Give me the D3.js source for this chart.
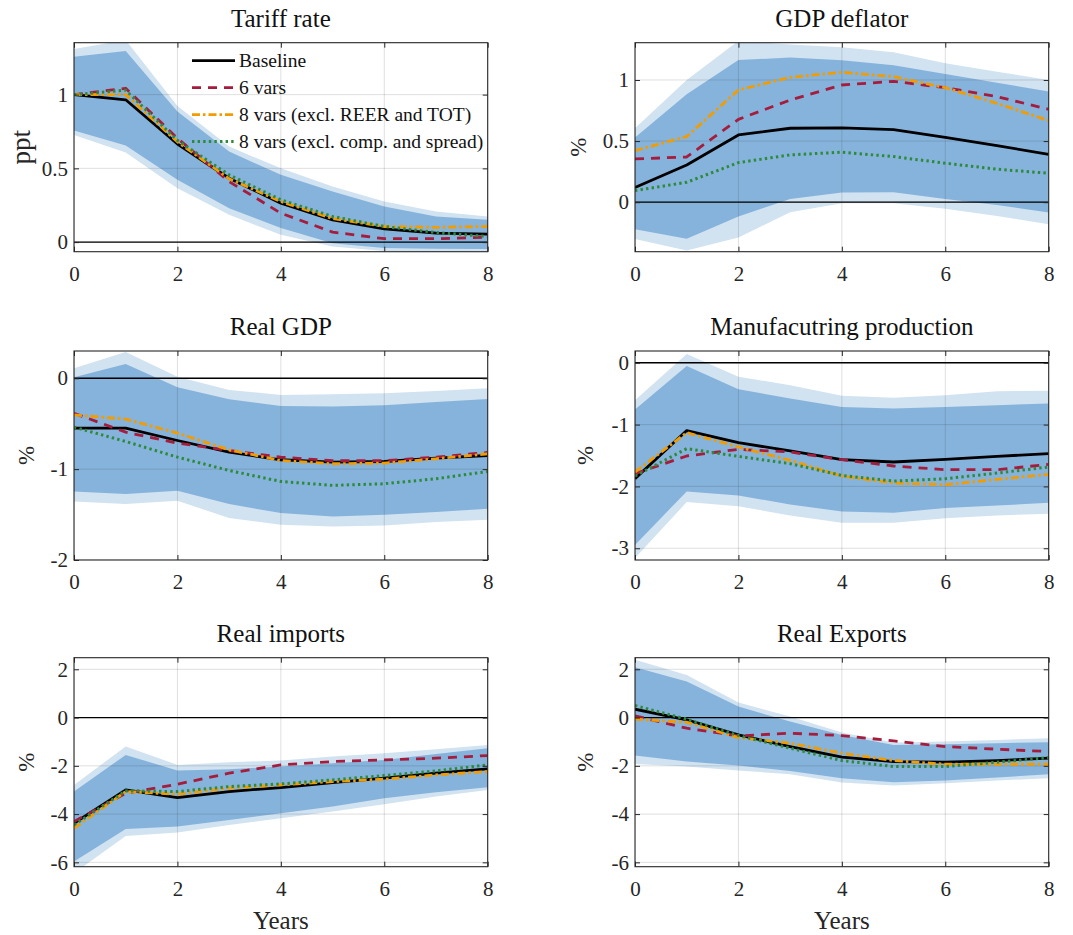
<!DOCTYPE html>
<html>
<head>
<meta charset="utf-8">
<script src="https://cdn.jsdelivr.net/npm/d3@7"></script>
<style>
  body { margin: 0; background: #fff; }
  svg { display: block; }
  text { font-family: "Liberation Serif", "Times New Roman", serif; fill: #262626; }
</style>
</head>
<body>
<svg id="fig" width="1073" height="935"></svg>
<script>
// Impulse responses to a tariff shock, years 0..8
const years = [0, 1, 2, 3, 4, 5, 6, 7, 8];
const panelTitles = ["Tariff rate", "GDP deflator", "Real GDP", "Manufacutring production", "Real imports", "Real Exports"];
const unitLabels = ["ppt", "%", "%", "%", "%", "%"];
const yLimits = [[-0.065, 1.352], [-0.405, 1.305], [-2, 0.3], [-3.19, 0.19], [-6.18, 2.48], [-6.18, 2.48]];
const yTickValues = [[0, 0.5, 1], [0, 0.5, 1], [-2, -1, 0], [-3, -2, -1, 0], [-6, -4, -2, 0, 2], [-6, -4, -2, 0, 2]];
const xTickValues = [0, 2, 4, 6, 8];
const seriesNames = ["Baseline", "6 vars", "8 vars (excl. REER and TOT)", "8 vars (excl. comp. and spread)"];

// Median responses, one row per panel
const baseline = [
  [1.0, 0.965, 0.665, 0.433, 0.264, 0.151, 0.09, 0.061, 0.054],
  [0.12, 0.305, 0.55, 0.605, 0.608, 0.594, 0.531, 0.463, 0.392],
  [-0.549, -0.549, -0.685, -0.813, -0.897, -0.923, -0.916, -0.879, -0.85],
  [-1.876, -1.097, -1.292, -1.427, -1.568, -1.605, -1.562, -1.514, -1.47],
  [-4.378, -2.997, -3.315, -3.066, -2.9, -2.693, -2.514, -2.307, -2.127],
  [0.345, -0.097, -0.718, -1.202, -1.644, -1.823, -1.851, -1.782, -1.685]
];
const sixVars = [
  [1.0, 1.043, 0.704, 0.41, 0.196, 0.068, 0.023, 0.023, 0.034],
  [0.354, 0.37, 0.678, 0.836, 0.959, 0.989, 0.937, 0.864, 0.76],
  [-0.385, -0.593, -0.714, -0.795, -0.868, -0.908, -0.908, -0.868, -0.817],
  [-1.795, -1.508, -1.4, -1.443, -1.568, -1.67, -1.73, -1.73, -1.643],
  [-4.31, -3.135, -2.762, -2.307, -1.961, -1.823, -1.754, -1.685, -1.575],
  [0.069, -0.442, -0.76, -0.649, -0.746, -0.967, -1.202, -1.312, -1.409]
];
const eightVarsNoReer = [
  [1.0, 1.0, 0.68, 0.43, 0.275, 0.16, 0.106, 0.1, 0.106],
  [0.422, 0.537, 0.918, 1.022, 1.063, 1.027, 0.937, 0.809, 0.668],
  [-0.403, -0.45, -0.604, -0.788, -0.905, -0.941, -0.934, -0.886, -0.831],
  [-1.768, -1.13, -1.362, -1.578, -1.832, -1.946, -1.973, -1.886, -1.805],
  [-4.586, -3.066, -3.177, -2.928, -2.79, -2.652, -2.555, -2.376, -2.238],
  [-0.069, -0.193, -0.829, -1.064, -1.478, -1.782, -1.934, -1.934, -1.934]
];
const eightVarsNoSpread = [
  [1.0, 1.03, 0.69, 0.456, 0.287, 0.174, 0.106, 0.065, 0.038],
  [0.095, 0.163, 0.324, 0.387, 0.409, 0.373, 0.319, 0.27, 0.237],
  [-0.538, -0.696, -0.868, -1.015, -1.136, -1.179, -1.161, -1.106, -1.026],
  [-1.832, -1.389, -1.514, -1.632, -1.822, -1.914, -1.876, -1.784, -1.686],
  [-4.448, -3.039, -3.066, -2.859, -2.749, -2.583, -2.403, -2.21, -1.961],
  [0.497, -0.069, -0.746, -1.271, -1.782, -2.03, -2.03, -1.851, -1.657]
];

// Credible bands of the baseline model
const upper68 = [
  [1.257, 1.296, 0.885, 0.614, 0.456, 0.343, 0.242, 0.174, 0.151],
  [0.529, 0.883, 1.163, 1.183, 1.161, 1.12, 1.049, 0.978, 0.905],
  [0.011, 0.158, -0.099, -0.231, -0.304, -0.311, -0.297, -0.26, -0.227],
  [-0.757, -0.054, -0.427, -0.578, -0.714, -0.741, -0.714, -0.686, -0.659],
  [-3.066, -1.547, -2.196, -2.141, -2.03, -1.892, -1.754, -1.506, -1.271],
  [2.086, 1.492, 0.456, -0.166, -0.718, -1.133, -1.105, -1.064, -1.022]
];
const lower68 = [
  [0.756, 0.655, 0.422, 0.23, 0.095, -0.007, -0.04, -0.045, -0.047],
  [-0.221, -0.3, -0.117, 0.027, 0.079, 0.082, 0.027, -0.022, -0.084],
  [-1.245, -1.275, -1.238, -1.385, -1.484, -1.52, -1.502, -1.473, -1.436],
  [-2.946, -2.081, -2.146, -2.292, -2.405, -2.427, -2.351, -2.308, -2.265],
  [-5.967, -4.613, -4.517, -4.24, -3.964, -3.688, -3.343, -3.094, -2.887],
  [-1.575, -1.823, -1.989, -2.21, -2.514, -2.68, -2.61, -2.486, -2.348]
];
const upper90 = [
  [1.309, 1.37, 0.923, 0.648, 0.5, 0.377, 0.275, 0.208, 0.174],
  [0.605, 1.0, 1.32, 1.29, 1.267, 1.226, 1.136, 1.068, 1.0],
  [0.11, 0.29, 0.018, -0.128, -0.183, -0.176, -0.165, -0.139, -0.11],
  [-0.605, 0.141, -0.227, -0.362, -0.535, -0.568, -0.524, -0.459, -0.454],
  [-2.79, -1.202, -1.961, -1.851, -1.782, -1.616, -1.478, -1.312, -1.133],
  [2.39, 1.768, 0.622, 0.041, -0.622, -1.036, -0.994, -0.925, -0.856]
];
const lower90 = [
  [0.727, 0.607, 0.366, 0.185, 0.05, -0.029, -0.06, -0.07, -0.075],
  [-0.302, -0.395, -0.289, -0.082, -0.008, -0.008, -0.054, -0.112, -0.18],
  [-1.355, -1.385, -1.348, -1.538, -1.612, -1.63, -1.619, -1.582, -1.557],
  [-3.157, -2.254, -2.319, -2.47, -2.589, -2.589, -2.514, -2.47, -2.443],
  [-6.45, -4.903, -4.765, -4.448, -4.171, -3.895, -3.591, -3.273, -2.997],
  [-1.92, -2.03, -2.196, -2.348, -2.693, -2.818, -2.721, -2.61, -2.514]
];

// Figure layout
const colLeft = [74, 635];
const rowTop = [42.7, 351, 657.7];
const axW = 413.7, axH = 209;
const unitLabelGap = [51, 57, 48, 50, 48, 50];
const serif = "Liberation Serif, Times New Roman, serif";

const lineStyles = [
  { color: "#000000", dash: null, width: 2.8 },
  { color: "#a51c3d", dash: "9,7", width: 2.8 },
  { color: "#f29c00", dash: "8,3,2.5,3", width: 2.8 },
  { color: "#2e8a3a", dash: "2.4,3.2", width: 3 }
];
const band90Color = "#d1e2f1";
const band68Color = "#86b3db";
const axisColor = "#262626";

const svg = d3.select("#fig");
svg.append("rect").attr("width", 1073).attr("height", 935).attr("fill", "#fff");

const fmt = d => String(d);

panelTitles.forEach((title, i) => {
  const x0 = colLeft[i % 2], y0 = rowTop[Math.floor(i / 2)];
  const g = svg.append("g").attr("transform", `translate(${x0},${y0})`);
  const x = d3.scaleLinear().domain([0, 8]).range([0, axW]);
  const y = d3.scaleLinear().domain(yLimits[i]).range([axH, 0]);

  const clipId = "clip" + i;
  g.append("clipPath").attr("id", clipId)
    .append("rect").attr("width", axW).attr("height", axH);
  const plot = g.append("g").attr("clip-path", `url(#${clipId})`);

  const band = (lo, hi) => d3.area()
    .x((d, k) => x(years[k]))
    .y0((d, k) => y(lo[k]))
    .y1((d, k) => y(hi[k]));

  plot.append("path").attr("d", band(lower90[i], upper90[i])(years)).attr("fill", band90Color);
  plot.append("path").attr("d", band(lower68[i], upper68[i])(years)).attr("fill", band68Color);

  // grid
  plot.selectAll(".gx").data(xTickValues).join("line")
    .attr("x1", d => x(d)).attr("x2", d => x(d)).attr("y1", 0).attr("y2", axH)
    .attr("stroke", axisColor).attr("stroke-opacity", 0.15).attr("stroke-width", 1);
  plot.selectAll(".gy").data(yTickValues[i]).join("line")
    .attr("y1", d => y(d)).attr("y2", d => y(d)).attr("x1", 0).attr("x2", axW)
    .attr("stroke", axisColor).attr("stroke-opacity", 0.15).attr("stroke-width", 1);

  // zero line
  plot.append("line").attr("x1", 0).attr("x2", axW).attr("y1", y(0)).attr("y2", y(0))
    .attr("stroke", "#000").attr("stroke-width", 1.3);

  const line = d3.line().x((d, k) => x(years[k])).y(d => y(d));
  [baseline, sixVars, eightVarsNoReer, eightVarsNoSpread].forEach((s, k) => {
    const st = lineStyles[k];
    plot.append("path").attr("d", line(s[i]))
      .attr("fill", "none").attr("stroke", st.color).attr("stroke-width", st.width)
      .attr("stroke-dasharray", st.dash).attr("stroke-linejoin", "round");
  });

  // axes with inward ticks on all four sides
  const styleAxis = sel => {
    sel.select(".domain").remove();
    sel.selectAll(".tick line").attr("stroke", axisColor).attr("stroke-width", 1);
    sel.attr("font-size", 21).attr("font-family", serif);
    sel.selectAll(".tick text").style("font-family", serif).style("fill", axisColor);
  };
  g.append("g").call(d3.axisLeft(y).tickValues(yTickValues[i]).tickSize(-5).tickPadding(6).tickFormat(fmt)).call(styleAxis);
  g.append("g").attr("transform", `translate(${axW},0)`)
    .call(d3.axisRight(y).tickValues(yTickValues[i]).tickSize(-5).tickFormat("")).call(styleAxis);
  g.append("g").attr("transform", `translate(0,${axH})`)
    .call(d3.axisBottom(x).tickValues(xTickValues).tickSize(-5).tickPadding(14).tickFormat(fmt)).call(styleAxis);
  g.append("g")
    .call(d3.axisTop(x).tickValues(xTickValues).tickSize(-5).tickFormat("")).call(styleAxis);

  g.append("rect").attr("width", axW).attr("height", axH)
    .attr("fill", "none").attr("stroke", axisColor).attr("stroke-width", 1.1);

  g.append("text").attr("x", axW / 2).attr("y", -16)
    .attr("text-anchor", "middle").attr("font-size", 25).style("fill", "#111")
    .text(title);

  const isPpt = unitLabels[i] === "ppt";
  g.append("text")
    .attr("transform", `translate(${-unitLabelGap[i]},${axH / 2}) rotate(-90)`)
    .attr("text-anchor", "middle").attr("dy", isPpt ? "0.25em" : "0.35em")
    .attr("font-size", isPpt ? 27 : 23)
    .text(unitLabels[i]);

  if (i >= 4) {
    g.append("text").attr("x", axW / 2).attr("y", axH + 62)
      .attr("text-anchor", "middle").attr("font-size", 25)
      .text("Years");
  }
});

// legend inside the first panel
const legend = svg.append("g");
const legendRows = [60.7, 87.7, 114.7, 141.5];
seriesNames.forEach((name, k) => {
  const st = lineStyles[k];
  legend.append("line").attr("x1", 192).attr("x2", 235)
    .attr("y1", legendRows[k]).attr("y2", legendRows[k])
    .attr("stroke", st.color).attr("stroke-width", st.width).attr("stroke-dasharray", st.dash);
  legend.append("text").attr("x", 239).attr("y", legendRows[k]).attr("dy", "0.33em")
    .attr("font-size", 19.5).style("fill", "#111").text(name);
});
</script>
</body>
</html>
